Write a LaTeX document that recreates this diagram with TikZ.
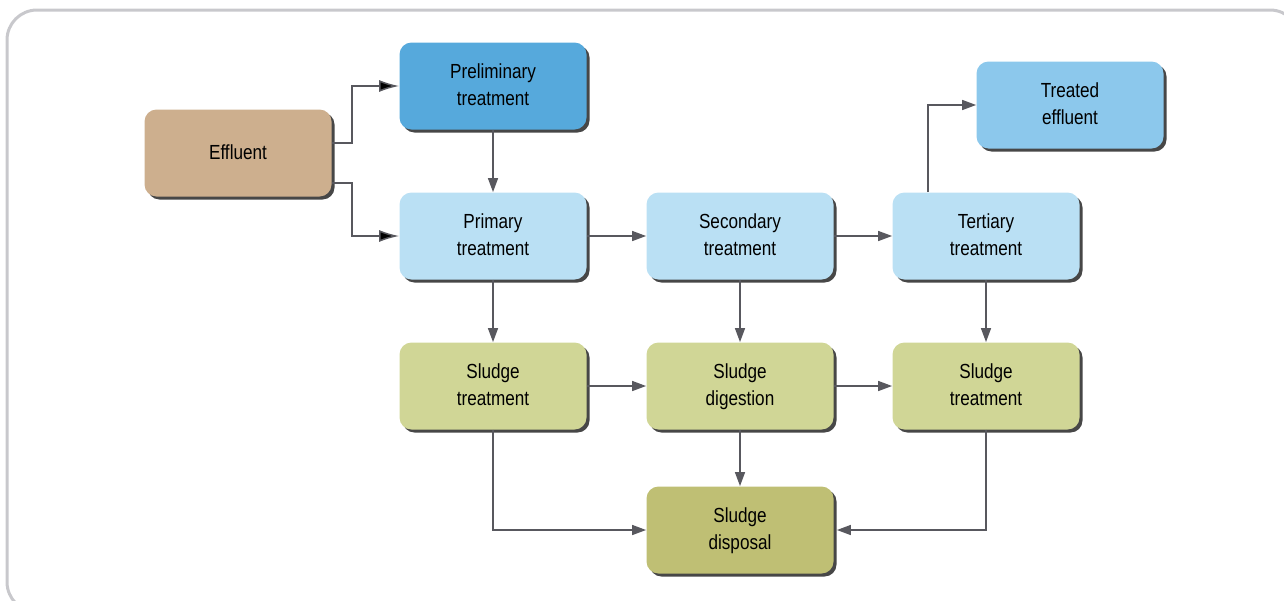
\documentclass[tikz,border=0pt]{standalone}
\usepackage{fontspec}
\setmainfont{Liberation Sans}[FakeStretch=0.84]
\usepackage{tikz}
\usepackage{xcolor}
\usetikzlibrary{arrows.meta,shadows}

\definecolor{effcol}{HTML}{CDAF8E}
\definecolor{precol}{HTML}{56A9DC}
\definecolor{treatcol}{HTML}{BAE0F4}
\definecolor{outcol}{HTML}{8CC8EC}
\definecolor{sludgecol}{HTML}{D0D696}
\definecolor{dispcol}{HTML}{BFBF74}
\definecolor{linecol}{HTML}{58585E}
\definecolor{framecol}{HTML}{C8C8CC}

\tikzset{
  stagebox/.style={rounded corners=6pt, minimum width=93.5pt, minimum height=43.5pt,
    align=center, font=\fontsize{10.2}{13.5}\selectfont, text depth=1pt,
    drop shadow={shadow xshift=1.5pt, shadow yshift=-1.5pt, fill=black!72, opacity=1}},
  flow/.style={draw=linecol, line width=0.75pt, -{Triangle[length=7pt,width=5pt]}},
  inflow/.style={draw=linecol, line width=0.75pt, -{Latex[length=10pt,width=6pt,fill=black]}}
}

\begin{document}
\begin{tikzpicture}[x=0.5pt,y=-0.5pt]
\useasboundingbox (0,0) rectangle (1284,600);
\draw [framecol, line width=1.5pt, rounded corners=15pt] (7,10) rectangle (1300,612);

\node [stagebox, fill=effcol] (eff) at (238,153) {Effluent};
\node [stagebox, fill=precol] (pre) at (493,86) {Preliminary\\treatment};
\node [stagebox, fill=treatcol] (prim) at (493,236) {Primary\\treatment};
\node [stagebox, fill=treatcol] (sec) at (740,236) {Secondary\\treatment};
\node [stagebox, fill=treatcol] (tert) at (986,236) {Tertiary\\treatment};
\node [stagebox, fill=outcol] (out) at (1070,105) {Treated\\effluent};
\node [stagebox, fill=sludgecol] (stA) at (493,386) {Sludge\\treatment};
\node [stagebox, fill=sludgecol] (dig) at (740,386) {Sludge\\digestion};
\node [stagebox, fill=sludgecol] (stB) at (986,386) {Sludge\\treatment};
\node [stagebox, fill=dispcol] (disp) at (740,530) {Sludge\\disposal};

\draw [inflow] ([yshift=5pt]eff.east) -- ++(20,0) |- (pre.west);
\draw [inflow] ([yshift=-15pt]eff.east) -- ++(20,0) |- (prim.west);

\draw [flow] (pre) -- (prim);
\draw [flow] (prim) -- (sec);
\draw [flow] (sec) -- (tert);
\draw [flow] ([xshift=-29pt]tert.north) |- (out.west);

\draw [flow] (prim) -- (stA);
\draw [flow] (sec) -- (dig);
\draw [flow] (tert) -- (stB);
\draw [flow] (stA) -- (dig);
\draw [flow] (dig) -- (stB);
\draw [flow] (dig) -- (disp);
\draw [flow] (stA.south) |- (disp.west);
\draw [flow] (stB.south) |- ([xshift=1.5pt]disp.east);

\end{tikzpicture}
\end{document}
